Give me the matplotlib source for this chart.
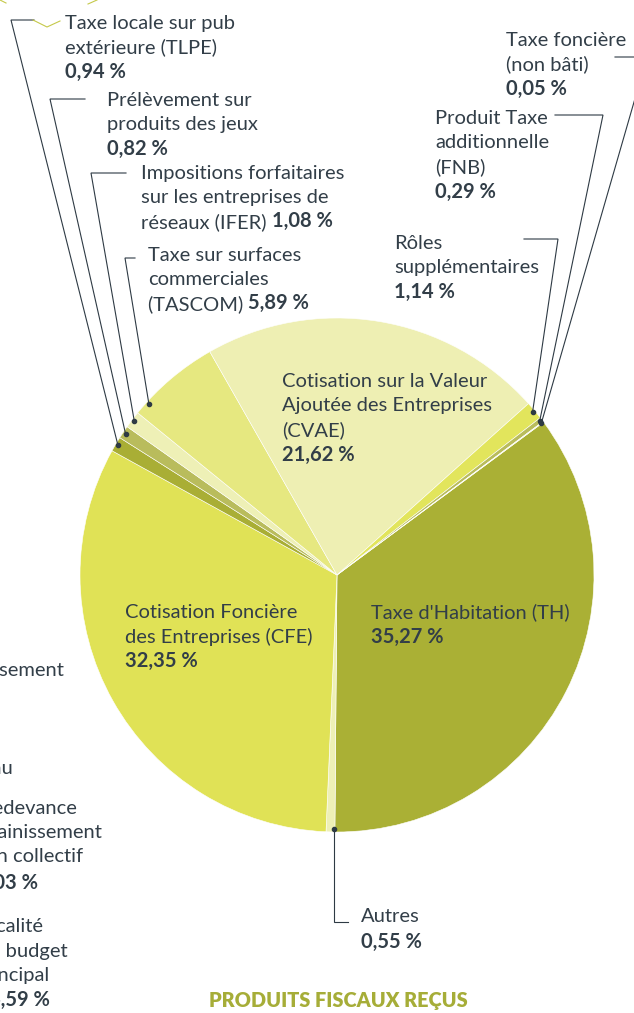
import numpy as np
import matplotlib
matplotlib.use("Agg")
import matplotlib.pyplot as plt

# produits fiscaux reçus (%)
names = ["Taxe d'Habitation (TH)", "Autres", "Cotisation Foncière des Entreprises (CFE)",
         "Taxe locale sur pub extérieure (TLPE)", "Prélèvement sur produits des jeux",
         "Impositions forfaitaires sur les entreprises de réseaux (IFER)",
         "Taxe sur surfaces commerciales (TASCOM)",
         "Cotisation sur la Valeur Ajoutée des Entreprises (CVAE)",
         "Rôles supplémentaires", "Produit Taxe additionnelle (FNB)",
         "Taxe foncière (non bâti)"]
values = [35.27, 0.55, 32.35, 0.94, 0.82, 1.08, 5.89, 21.62, 1.14, 0.29, 0.05]
colors = ["#aab035", "#eef0b6", "#e0e256", "#a9ae35", "#b9bc5c", "#eef0b6",
          "#e6e880", "#eeefb3", "#e2e55c", "#b9bc5c", "#eef0b6"]

W, H = 634, 1013
TXT = "#323e48"
LINE = "#2e3a44"
FS = 14.5

plt.rcParams['font.family'] = ['Lato', 'DejaVu Sans']

def fy(y):
    return H - y

def pct(v):
    return ("%.2f" % v).replace(".", ",") + " %"

fig = plt.figure(figsize=(W / 100, H / 100), dpi=100)
ax = fig.add_axes([0, 0, 1, 1])

cx, cy, R = 337, 575, 257
wedges, _ = ax.pie(values, colors=colors, startangle=36.5, counterclock=False,
                   center=(cx, fy(cy)), radius=R,
                   wedgeprops=dict(edgecolor="white", linewidth=0.4))
ax.set_xlim(0, W)
ax.set_ylim(0, H)
ax.set_aspect("equal")
ax.axis("off")

def line_block(x, y0, lines, ha="left", step=24.5):
    # lines = list of (text, bold) or list of pieces for mixed lines
    for i, ln in enumerate(lines):
        y = fy(y0 + i * step)
        if isinstance(ln, list):
            t = ax.text(x, y, ln[0][0], fontsize=FS, color=TXT, va="center", ha=ha,
                        fontweight="bold" if ln[0][1] else "normal")
            for s, b in ln[1:]:
                t = ax.annotate(s, xy=(1, 0), xycoords=t, va="bottom", ha="left",
                                fontsize=FS, color=TXT,
                                fontweight="bold" if b else "normal")
        else:
            s, b = ln
            ax.text(x, y, s, fontsize=FS, color=TXT, va="center", ha=ha,
                    fontweight="bold" if b else "normal")

# leader lines : index -> (fraction in wedge, corner, end of horizontal)
leaders = {
    1: (0.1, None, (348, 922)),
    3: (0.5, (11, 20), (34, 20)),
    4: (0.5, (50, 99), (85, 99)),
    5: (0.5, (91, 173), (126, 173)),
    6: (0.15, (125, 258), (135, 258)),
    8: (0.5, (558, 239), (524, 239)),
    9: (0.5, (603, 115), (555, 115)),
    10: (0.5, (647, 57), (615, 57)),
}
for i, (frac, corner, end) in leaders.items():
    w = wedges[i]
    a = np.radians(w.theta2 - frac * (w.theta2 - w.theta1))
    px = cx + R * 0.99 * np.cos(a)
    py = fy(cy) + R * 0.99 * np.sin(a)
    if corner is None:
        cxp, cyp = px, fy(end[1])
    else:
        cxp, cyp = corner[0], fy(corner[1])
    ax.plot([px, cxp, end[0]], [py, cyp, fy(end[1])], color=LINE, lw=0.8,
            solid_joinstyle="miter", clip_on=False)
    ax.plot(px, py, "o", color=LINE, ms=3)

# labels outside
line_block(65, 23, [("Taxe locale sur pub", 0), ("extérieure (TLPE)", 0), (pct(values[3]), 1)])
line_block(107, 100, [("Prélèvement sur", 0), ("produits des jeux", 0), (pct(values[4]), 1)])
line_block(141, 173, [("Impositions forfaitaires", 0), ("sur les entreprises de", 0),
                      [("réseaux (IFER) ", 0), (pct(values[5]), 1)]])
line_block(148, 255, [("Taxe sur surfaces", 0), ("commerciales", 0),
                      [("(TASCOM) ", 0), (pct(values[6]), 1)]])
line_block(506, 40, [("Taxe foncière", 0), ("(non bâti)", 0), (pct(values[10]), 1)])
line_block(435, 118, [("Produit Taxe", 0), ("additionnelle", 0), ("(FNB)", 0), (pct(values[9]), 1)])
line_block(394, 243, [("Rôles", 0), ("supplémentaires", 0), (pct(values[8]), 1)])
line_block(361, 916, [("Autres", 0), (pct(values[1]), 1)], step=26)

# labels inside
line_block(282, 381, [("Cotisation sur la Valeur", 0), ("Ajoutée des Entreprises", 0),
                      ("(CVAE)", 0), (pct(values[7]), 1)])
line_block(371, 612, [("Taxe d'Habitation (TH)", 0), (pct(values[0]), 1)])
line_block(125, 612, [("Cotisation Foncière", 0), ("des Entreprises (CFE)", 0), (pct(values[2]), 1)])

# texte coupé du graphique voisin (coupé au bord comme dans l'original)
ax.text(64, fy(670), "assainissement", fontsize=FS, color=TXT, va="center", ha="right")
ax.text(13, fy(768), "Eau", fontsize=FS, color=TXT, va="center", ha="right")
for s, xr, yy, b in [("Redevance", 77, 808, 0), ("assainissement", 102, 833, 0),
                     ("non collectif", 83, 857, 0), ("0,03 %", 38, 883, 1),
                     ("Fiscalité", 43, 927, 0), ("du budget", 68, 951, 0),
                     ("principal", 50, 975, 0), ("4,59 %", 50, 1000, 1)]:
    ax.text(xr, fy(yy), s, fontsize=FS, color=TXT, va="center", ha="right",
            fontweight="bold" if b else "normal")

# petit trait vert en haut à gauche
ax.plot([33, 47, 60], [fy(20), fy(27), fy(21)], color="#c5c94a", lw=0.8, clip_on=False)
ax.plot([0, 6], [fy(0), fy(3)], color="#c5c94a", lw=0.8, clip_on=False)
ax.plot([88, 97], [fy(4), fy(0)], color="#c5c94a", lw=0.8, clip_on=False)

ax.text(338, fy(1001), "PRODUITS FISCAUX REÇUS", fontsize=14.3, fontweight="heavy",
        color="#a6ad38", ha="center", va="center")

fig.savefig("out.png", dpi=100)
